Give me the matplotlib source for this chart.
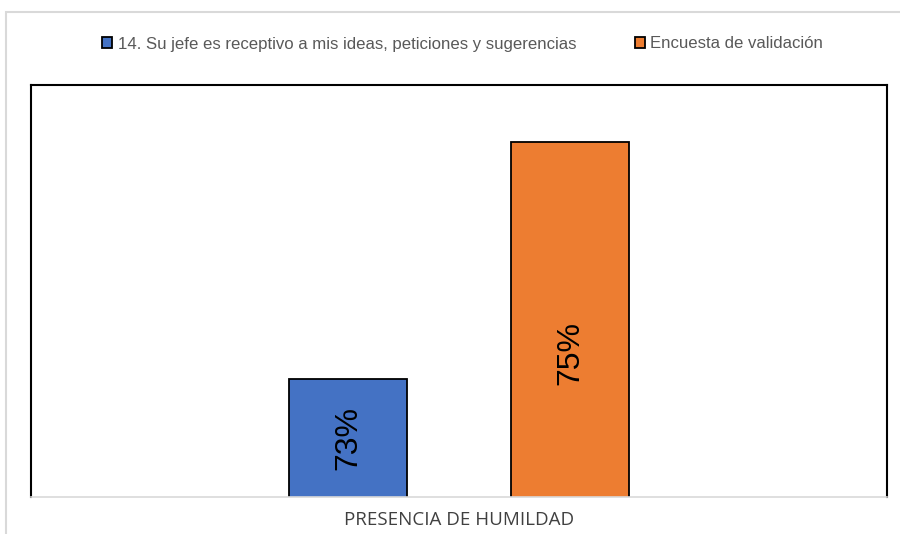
import matplotlib
matplotlib.use("Agg")
import matplotlib.pyplot as plt
from matplotlib.patches import Rectangle

category = "PRESENCIA DE HUMILDAD"
series = ["14. Su jefe es receptivo a mis ideas, peticiones y sugerencias",
          "Encuesta de validación"]
values = [73, 75]
labels = ["73%", "75%"]
colors = ["#4472C4", "#ED7D31"]

plt.rcParams['font.family'] = ['Liberation Sans', 'DejaVu Sans']

fig = plt.figure(figsize=(9, 5.34), dpi=100)
ax = fig.add_axes([31 / 900, 37 / 534, 856 / 900, 412 / 534])

# outer light-gray chart border
fig.patches.append(Rectangle((6 / 900, -0.1), 1.2, (534 - 12) / 534 + 0.1,
                             transform=fig.transFigure, fill=False,
                             edgecolor="#d9d9d9", linewidth=1.5))

width = 0.137
offsets = [-0.1297, 0.1297]
label_y = [72.5, 73.22]
for off, v, c, s, lab, ly in zip(offsets, values, colors, series, labels, label_y):
    ax.bar(off, v, width=width, color=c, edgecolor="black", linewidth=1.3,
           label=s, zorder=2)
    ax.text(off, ly, lab, rotation=90, ha="center", va="center",
            fontsize=23, color="black")

ax.set_xlim(-0.5, 0.5)
ax.set_ylim(72, 75.48)
ax.set_yticks([])
ax.set_xticks([])
for side in ["left", "top", "right"]:
    ax.spines[side].set_color("black")
    ax.spines[side].set_linewidth(1.5)
ax.spines["bottom"].set_color("#d9d9d9")
ax.spines["bottom"].set_linewidth(1.2)

ax.set_xlabel(category, fontsize=13.5, color="#404040", labelpad=10)
ax.xaxis.label.set_fontfamily(['Open Sans', 'DejaVu Sans'])

leg = fig.legend(loc="center", bbox_to_anchor=(0.514, 1 - 44 / 534), ncol=2,
                 frameon=False, handlelength=0.6, handleheight=0.6,
                 handletextpad=0.3, columnspacing=3.5,
                 prop={'family': ['Liberation Sans'], 'size': 12.1})
for t in leg.get_texts():
    t.set_color("#595959")

fig.savefig("out.png", dpi=100)
